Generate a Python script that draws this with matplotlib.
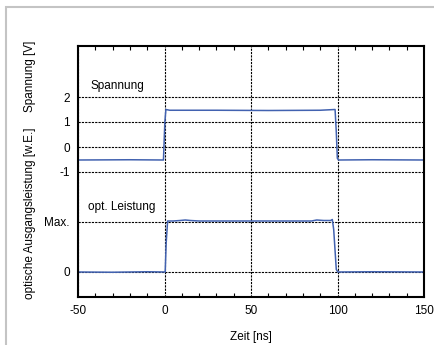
import matplotlib
matplotlib.use('Agg')
import matplotlib.pyplot as plt
import matplotlib.patches as patches

plt.rcParams['font.family'] = ['Liberation Sans', 'DejaVu Sans']
plt.rcParams['axes.unicode_minus'] = False

# Spannung (voltage) trace, V
t_volt = [-50, -20, -0.6, 0.2, 0.8, 3, 30, 60, 90, 98.6, 99.3, 99.9, 100.6, 120, 150]
volt = [-0.52, -0.51, -0.52, 1.0, 1.5, 1.47, 1.47, 1.46, 1.47, 1.5, 0.6, -0.45, -0.52, -0.51, -0.52]

# optical output power, relative to max
t_pow = [-50, -30, -10, 0.4, 1.0, 1.8, 5, 9, 12, 15, 20, 50, 85, 88, 92, 96, 97, 97.8, 99.3, 100.2, 120, 150]
power = [0.0, -0.005, 0.005, 0.0, 0.6, 1.02, 1.02, 1.03, 1.04, 1.03, 1.02, 1.02, 1.02, 1.04, 1.03, 1.03, 1.05, 0.85, 0.05, 0.0, 0.005, 0.0]

x_ticks = [-50, 0, 50, 100, 150]
y_ticks = [2, 1, 0, -1, -3, -5]
y_ticklabels = ['2', '1', '0', '-1', 'Max.', '0']

fig = plt.figure(figsize=(4.34, 3.45), dpi=100)
ax = fig.add_axes([78/434, 48/345, 346/434, 251/345])

# light frame around the figure
fig.patches.append(patches.Rectangle((6/434, -0.1), 1.2, (338 + 34.5)/345, transform=fig.transFigure,
                                     fill=False, edgecolor='#c4c4c4', linewidth=1.5))

blue = '#4262b0'
ax.plot(t_volt, volt, color=blue, lw=1.1)
ax.plot(t_pow, [-5 + 2 * p for p in power], color=blue, lw=1.1)

ax.set_xlim(-50, 150)
ax.set_ylim(-6, 4.04)
ax.set_xticks(x_ticks)
ax.set_yticks(y_ticks)
ax.set_yticklabels(y_ticklabels)
ax.set_xticks(range(-40, 150, 10), minor=True)
ax.tick_params(axis='both', which='major', length=0, labelsize=8.5, pad=6)
ax.tick_params(axis='x', which='minor', direction='in', length=3, top=True, bottom=True, width=0.8)
ax.grid(True, which='major', color='black', linestyle=(0, (2, 1)), linewidth=0.8)

for s in ax.spines.values():
    s.set_linewidth(1.5)

ax.text(-43, 2.45, 'Spannung', fontsize=8.5, va='center')
ax.text(-44, -2.4, 'opt. Leistung', fontsize=8.5, va='center')

fig.text(30/434, 1 - 76/345, 'Spannung [V]', rotation=90, ha='center', va='center', fontsize=8.5)
fig.text(30/434, 1 - 213/345, 'optische Ausgangsleistung [w.E.]', rotation=90, ha='center', va='center', fontsize=8.5)
ax.set_xlabel('Zeit [ns]', fontsize=8.5, labelpad=10)

fig.savefig('out.png', dpi=100)
